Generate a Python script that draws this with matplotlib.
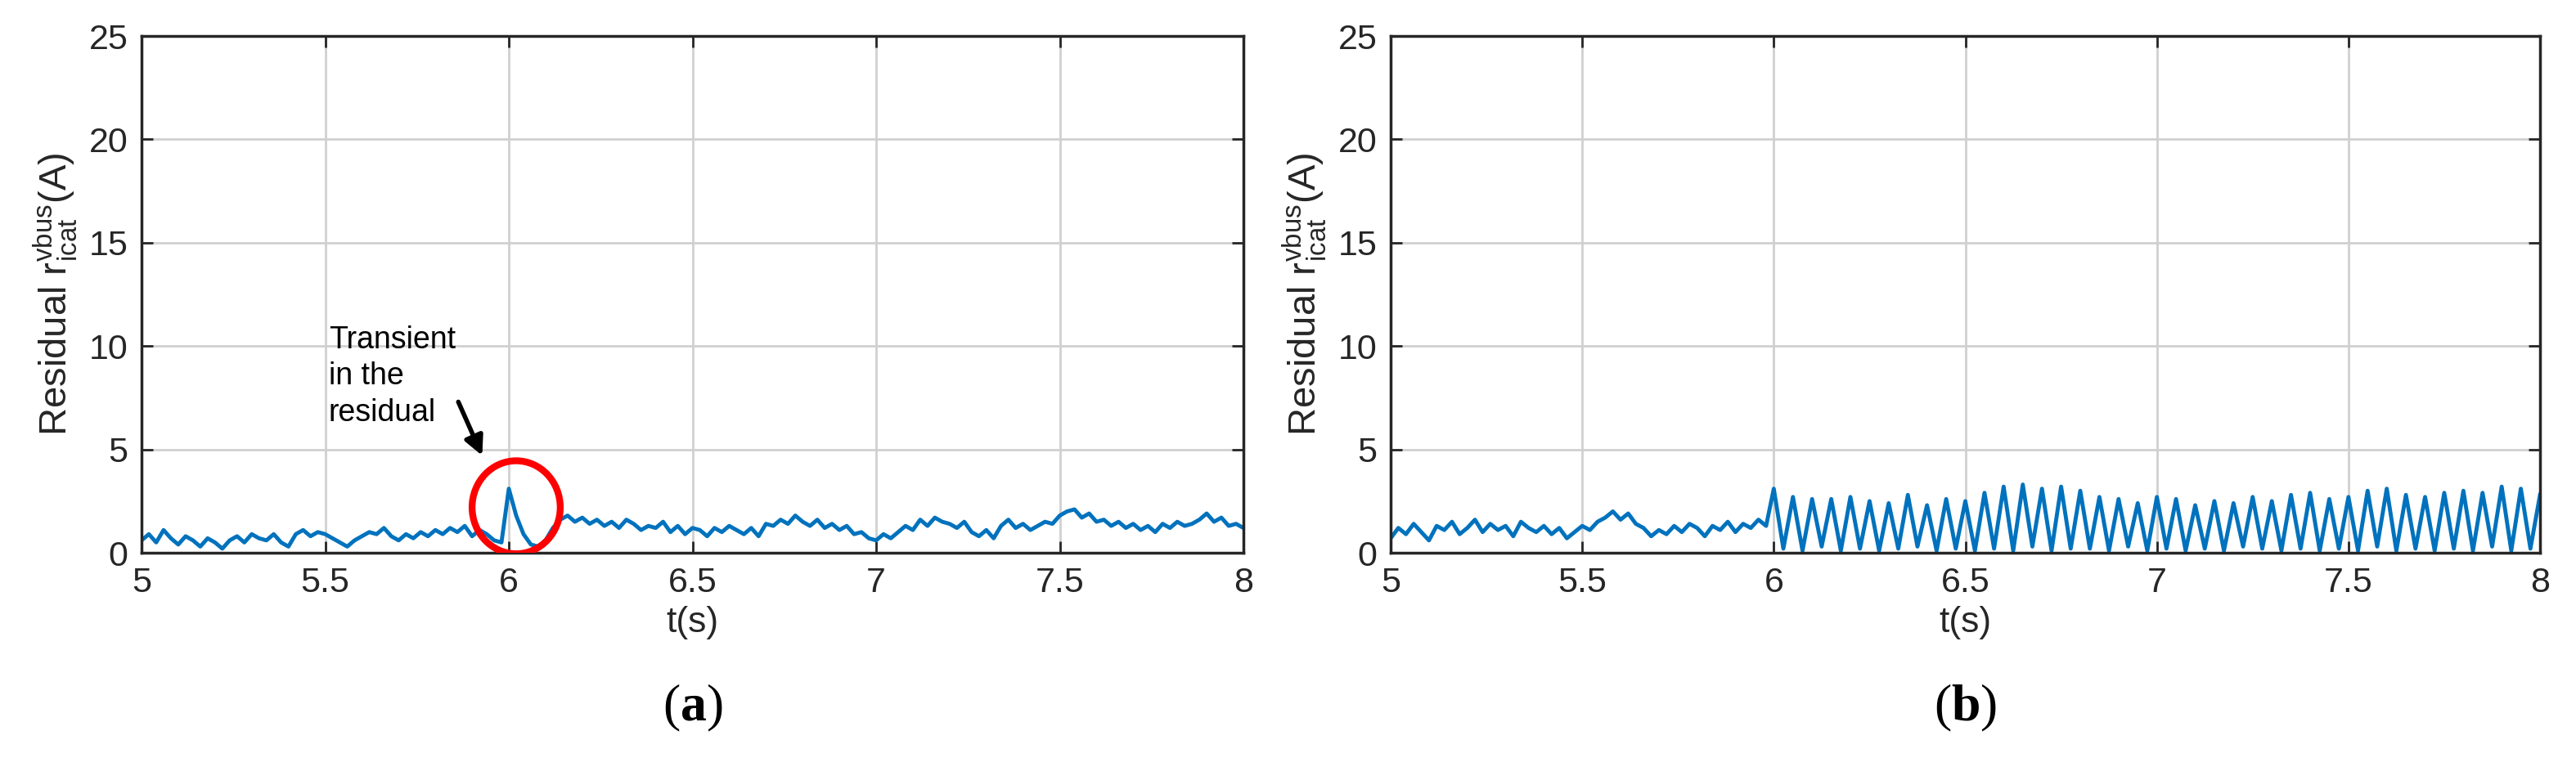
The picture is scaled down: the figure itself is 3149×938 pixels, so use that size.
import numpy as np
import matplotlib
matplotlib.use('Agg')
from matplotlib import pyplot as plt
from matplotlib.patches import Ellipse

# panel (a): residual sampled every 0.02 s from 5.00 to 8.00
res_a = [
    0.6, 0.9, 0.5, 1.1, 0.7, 0.4, 0.8, 0.6, 0.3, 0.7,
    0.5, 0.2, 0.6, 0.8, 0.5, 0.9, 0.7, 0.6, 0.9, 0.5,
    0.3, 0.9, 1.1, 0.8, 1.0, 0.9, 0.7, 0.5, 0.3, 0.6,
    0.8, 1.0, 0.9, 1.2, 0.8, 0.6, 0.9, 0.7, 1.0, 0.8,
    1.1, 0.9, 1.2, 1.0, 1.3, 0.8, 1.1, 0.9, 0.6, 0.5,
    3.1, 1.8, 0.9, 0.4, 0.3, 0.6, 1.2, 1.6, 1.8, 1.5,
    1.7, 1.4, 1.6, 1.3, 1.5, 1.2, 1.6, 1.4, 1.1, 1.3,
    1.2, 1.5, 1.0, 1.3, 0.9, 1.2, 1.1, 0.8, 1.2, 1.0,
    1.3, 1.1, 0.9, 1.2, 0.8, 1.4, 1.3, 1.6, 1.4, 1.8,
    1.5, 1.3, 1.6, 1.2, 1.4, 1.1, 1.3, 0.9, 1.0, 0.7,
    0.6, 0.9, 0.7, 1.0, 1.3, 1.1, 1.6, 1.3, 1.7, 1.5,
    1.4, 1.2, 1.5, 1.0, 0.8, 1.1, 0.7, 1.3, 1.6, 1.2,
    1.4, 1.1, 1.3, 1.5, 1.4, 1.8, 2.0, 2.1, 1.7, 1.9,
    1.5, 1.6, 1.3, 1.5, 1.2, 1.4, 1.1, 1.3, 1.0, 1.4,
    1.2, 1.5, 1.3, 1.4, 1.6, 1.9, 1.5, 1.7, 1.3, 1.4,
    1.2,
]

# panel (b): before fault, every 0.02 s from 5.00 to 5.98
res_b_pre = [
    0.7, 1.2, 0.9, 1.4, 1.0, 0.6, 1.3, 1.1, 1.5, 0.9,
    1.2, 1.6, 1.0, 1.4, 1.1, 1.3, 0.8, 1.5, 1.2, 1.0,
    1.3, 0.9, 1.2, 0.7, 1.0, 1.3, 1.1, 1.5, 1.7, 2.0,
    1.6, 1.9, 1.4, 1.2, 0.8, 1.1, 0.9, 1.3, 1.0, 1.4,
    1.2, 0.8, 1.3, 1.1, 1.5, 1.0, 1.4, 1.2, 1.6, 1.3,
]
# after 6 s: oscillation, peaks every 0.05 s from 6.00, troughs in between
peaks_b = [3.1, 2.7, 2.6, 2.6, 2.7, 2.5, 2.4, 2.8, 2.3, 2.6,
           2.5, 2.9, 3.2, 3.3, 3.1, 3.2, 3.0, 2.7, 2.6, 2.4,
           2.7, 2.6, 2.3, 2.5, 2.4, 2.7, 2.5, 2.8, 2.9, 2.6,
           2.7, 3.0, 3.1, 2.8, 2.7, 2.9, 3.0, 2.9, 3.2, 3.1,
           2.8]
troughs_b = [0.2, 0.1, 0.3, 0.1, 0.2, 0.1, 0.2, 0.3, 0.1, 0.2,
             0.1, 0.2, 0.1, 0.3, 0.1, 0.2, 0.2, 0.1, 0.3, 0.1,
             0.2, 0.1, 0.2, 0.1, 0.3, 0.2, 0.1, 0.2, 0.1, 0.2,
             0.1, 0.3, 0.1, 0.2, 0.1, 0.2, 0.1, 0.3, 0.1, 0.2]

blue = '#0072BD'
sans = 'Liberation Sans'
plt.rcParams['mathtext.default'] = 'regular'
plt.rcParams['mathtext.fontset'] = 'custom'
plt.rcParams['mathtext.rm'] = 'Liberation Sans'
plt.rcParams['mathtext.bf'] = 'Liberation Serif:bold'

t_a = 5 + 0.02 * np.arange(len(res_a))
t_pre = 5 + 0.02 * np.arange(len(res_b_pre))
post = []
for p, q in zip(peaks_b, troughs_b + [None]):
    post.append(p)
    if q is not None:
        post.append(q)
t_post = 6 + 0.025 * np.arange(len(post))
t_b = np.concatenate([t_pre, t_post])
res_b = np.concatenate([res_b_pre, post])

fig = plt.figure(figsize=(31.49, 9.38), dpi=100)
ax_a = fig.add_axes([173 / 3149, 1 - 676 / 938, 1347 / 3149, 632 / 938])
ax_b = fig.add_axes([1700 / 3149, 1 - 676 / 938, 1405 / 3149, 632 / 938])

for ax, t, r, tag in [(ax_a, t_a, res_a, 'a'), (ax_b, t_b, res_b, 'b')]:
    ax.plot(t, r, color=blue, lw=3.5)
    ax.set_xlim(5, 8)
    ax.set_ylim(0, 25)
    ax.set_xticks([5, 5.5, 6, 6.5, 7, 7.5, 8])
    ax.set_xticklabels(['5', '5.5', '6', '6.5', '7', '7.5', '8'])
    ax.set_yticks([0, 5, 10, 15, 20, 25])
    ax.grid(True, color='#d0d0d0', lw=2)
    ax.tick_params(direction='in', length=10, width=2, top=True, right=True,
                   labelsize=31, colors='#262626', pad=12)
    for lb in ax.get_xticklabels() + ax.get_yticklabels():
        lb.set_family(sans)
    for s in ax.spines.values():
        s.set_linewidth(2.5)
        s.set_color('#262626')
    ax.set_xlabel('t(s)', fontsize=32, family=sans, color='#262626', labelpad=6)
    ax.set_ylabel(r'Residual r$_{icat}^{vbus}$(A)', fontsize=34,
                  family=sans, color='#262626', labelpad=8)
    ax.text(0.5, -0.30, '($\\mathbf{%s}$)' % tag, transform=ax.transAxes,
            ha='center', va='center', fontsize=46, family='Liberation Serif')

ax_a.text(5.51, 11.0, 'Transient\nin the\nresidual', fontsize=27, family=sans,
          va='top', ha='left', linespacing=1.3)
ax_a.annotate('', xy=(5.93, 4.6), xytext=(5.86, 7.4),
              arrowprops=dict(arrowstyle='-|>', color='black', lw=4,
                              mutation_scale=35))
ax_a.add_patch(Ellipse((6.02, 2.2), 0.24, 4.5, fill=False, ec='red', lw=6,
                       zorder=5))

fig.savefig('out.png', dpi=100)
